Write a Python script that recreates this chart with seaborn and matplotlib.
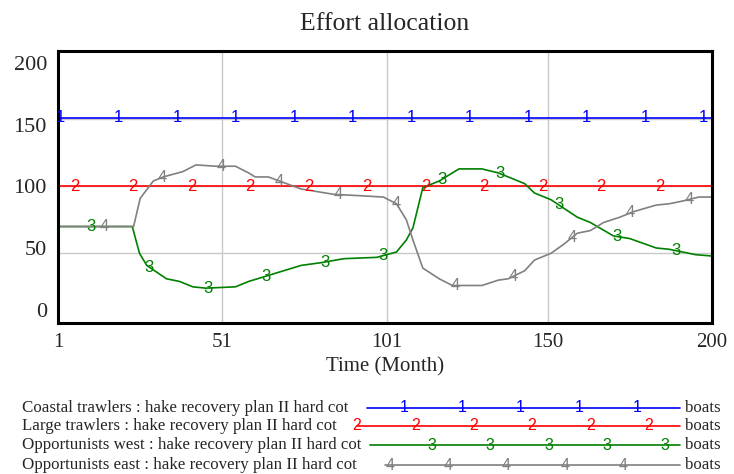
import numpy as np
import pandas as pd
import matplotlib
matplotlib.use("Agg")
import matplotlib.pyplot as plt
import seaborn as sns

# data (months, boats)
coastal_m = [1, 200]
coastal_v = [151, 151]

large_m = [1, 200]
large_v = [100, 100]

opp_west_m = [1, 23.6, 25.8, 28, 34, 38, 42, 46, 55, 59, 63, 75, 81, 88, 98, 104, 107,
              109, 110.5, 112, 117, 123, 130, 135, 143, 146, 151, 159, 163, 170, 175,
              183, 187, 195, 200]
opp_west_v = [70, 70, 50, 41, 31, 29, 25, 24, 25, 29, 32, 41, 43, 46, 47, 51, 60,
              69, 84, 99, 104, 113, 113, 110, 102, 95, 90, 77, 73, 63, 61,
              54, 53, 49, 48]

opp_east_m = [1, 24, 26, 30, 33, 39, 43, 49, 55, 59, 61, 65, 75, 85, 93, 100, 104, 107,
              109, 112, 117, 121, 130, 135, 138, 143, 146, 151, 155, 159, 163, 167,
              172, 176, 183, 187, 191, 196, 200]
opp_east_v = [70, 70, 91, 104, 107, 111, 116, 115, 115, 110, 107, 107, 98, 94, 93, 92, 87, 75,
              60, 39, 31, 26, 26, 30, 31, 37, 45, 50, 57, 65, 67, 73,
              77, 81, 86, 87, 89, 92, 92]

series_names = ["Coastal trawlers", "Large trawlers", "Opportunists west", "Opportunists east"]
scenario = "hake recovery plan II hard cot"
unit = "boats"
x_ticks = [1, 51, 101, 150, 200]
y_ticks = [0, 50, 100, 150, 200]

colors = ["#0000ff", "#ff0000", "#008000", "#808080"]
marks = ["1", "2", "3", "4"]

frames = []
for name, m, v in zip(series_names,
                      [coastal_m, large_m, opp_west_m, opp_east_m],
                      [coastal_v, large_v, opp_west_v, opp_east_v]):
    frames.append(pd.DataFrame({"month": m, "boats": v, "series": name}))
df = pd.concat(frames, ignore_index=True)

sns.set_style("white")
plt.rcParams["font.family"] = ["Liberation Serif", "DejaVu Serif"]

fig = plt.figure(figsize=(7.34, 4.74), dpi=100)
ax = fig.add_axes([58 / 734, 1 - 323 / 474, (712 - 58) / 734, (323 - 51) / 474])

# light grid first, under the curves
for gx in x_ticks[1:-1]:
    ax.axvline(gx, color="#c8c8c8", linewidth=1, zorder=0)
for gy in y_ticks[1:-1]:
    ax.axhline(gy, color="#c8c8c8", linewidth=1, zorder=0)

sns.lineplot(data=df, x="month", y="boats", hue="series", hue_order=series_names,
             palette=colors, linewidth=1.2, legend=False, ax=ax, sort=False,
             estimator=None)

# numbered markers along each curve (Vensim style)
starts = [1.6, 6.0, 11.0, 15.0]
step = 17.8
for name, m, v, c, k, s in zip(series_names,
                               [coastal_m, large_m, opp_west_m, opp_east_m],
                               [coastal_v, large_v, opp_west_v, opp_east_v],
                               colors, marks, starts):
    xs = np.arange(s, 200.5, step)
    ys = np.interp(xs, m, v)
    for xx, yy in zip(xs, ys):
        ax.text(xx, yy, k, color=c, fontsize=12, ha="center", va="center",
                family="Liberation Sans")

ax.set_xlim(1, 200)
ax.set_ylim(-2, 201)
ax.set_xticks(x_ticks)
# Vensim squeezes the y labels slightly towards the middle
ax.set_yticks([100 + (t - 100) * 0.92 for t in y_ticks])
ax.set_yticklabels([str(t) for t in y_ticks])
ax.tick_params(length=0, labelsize=16, pad=8)
ax.tick_params(axis="x", labelsize=15, pad=7)
for sp in ax.spines.values():
    sp.set_linewidth(2.2)
    sp.set_color("black")
ax.set_xlabel("Time (Month)", fontsize=15, labelpad=4)
ax.set_ylabel("")
ax.set_title("Effort allocation", fontsize=18.5, pad=15)

# legend block underneath, laid out in pixel coordinates
lax = fig.add_axes([0, 0, 1, 1], facecolor="none")
lax.set_xlim(0, 734)
lax.set_ylim(474, 0)
lax.axis("off")
rows_y = [408, 426, 445, 465]
line_start = [367, 357, 370, 385]
mark_start = [404, 357, 432, 390]
mark_count = [5, 6, 5, 5]
for i, name in enumerate(series_names):
    y = rows_y[i]
    lax.text(22, y, f"{name} : {scenario}", fontsize=12.2, ha="left", va="center")
    lax.plot([line_start[i], 680], [y, y], color=colors[i], linewidth=1.2)
    for j in range(mark_count[i]):
        lax.text(mark_start[i] + j * 58.3, y, marks[i], color=colors[i], fontsize=11.5,
                 ha="center", va="center", family="Liberation Sans")
    lax.text(685, y, unit, fontsize=12.2, ha="left", va="center")

fig.savefig("out.png", dpi=100)
